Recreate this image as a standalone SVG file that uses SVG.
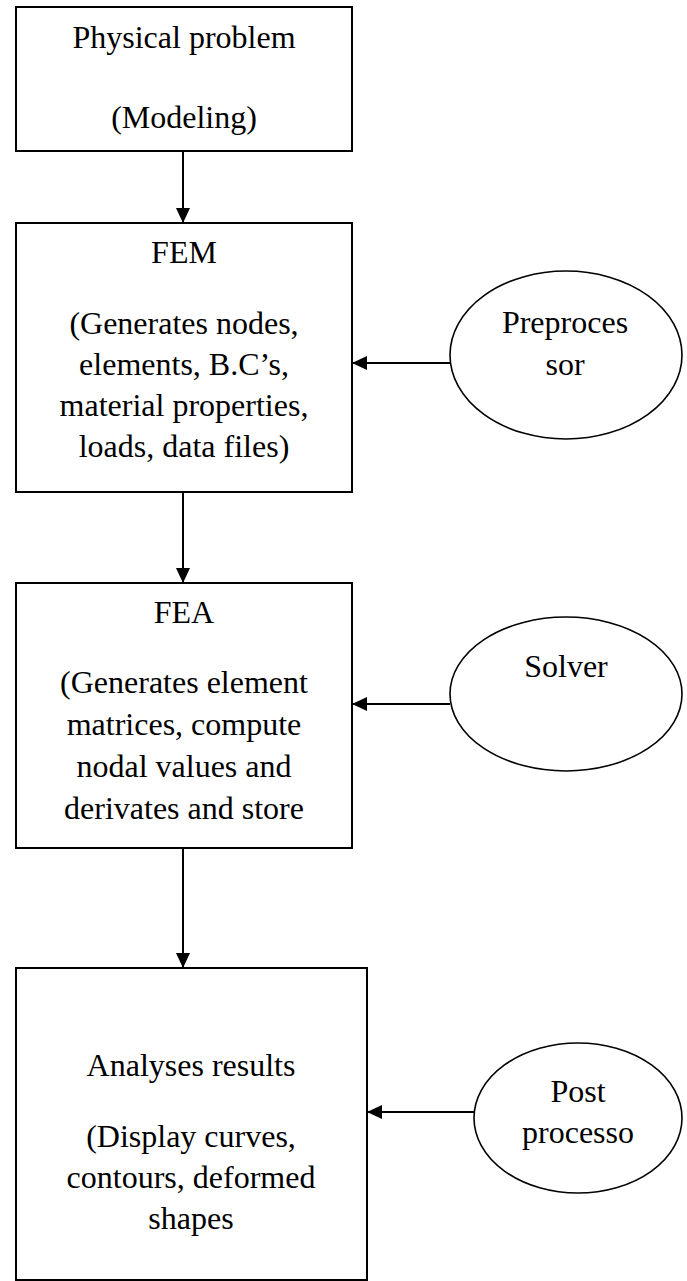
<svg xmlns="http://www.w3.org/2000/svg" width="687" height="1281" viewBox="0 0 687 1281">
  <style>
    .box { fill: #ffffff; stroke: #000000; stroke-width: 2; }
    .ell { fill: #ffffff; stroke: #000000; stroke-width: 1.6; }
    text { font-family: 'Liberation Serif', 'DejaVu Serif', serif; font-size: 32px; fill: #000000; text-anchor: middle; }
    .conn { stroke: #000000; stroke-width: 2; fill: none; marker-end: url(#arrow); }
  </style>
  <defs>
    <marker id="arrow" viewBox="0 0 15 14" refX="15" refY="7" markerWidth="15" markerHeight="14" markerUnits="userSpaceOnUse" orient="auto">
      <path d="M0,0 L15,7 L0,14 Z" fill="#000000"/>
    </marker>
  </defs>
  <rect width="687" height="1281" fill="#ffffff"/>

  <g font-family="Liberation Serif, DejaVu Serif, serif" font-size="32" text-anchor="middle">
  <g id="node-physical">
    <rect class="box" x="16" y="7" width="336" height="144"/>
    <text x="184" y="48">Physical problem</text>
    <text x="184" y="128">(Modeling)</text>
  </g>

  <g id="node-fem">
    <rect class="box" x="16" y="223" width="336" height="269"/>
    <text x="184" y="263">FEM</text>
    <text x="184" y="334">(Generates nodes,</text>
    <text x="184" y="375">elements, B.C’s,</text>
    <text x="184" y="416">material properties,</text>
    <text x="184" y="457">loads, data files)</text>
  </g>

  <g id="node-fea">
    <rect class="box" x="16" y="583" width="336" height="265"/>
    <text x="184" y="623">FEA</text>
    <text x="184" y="693">(Generates element</text>
    <text x="184" y="735">matrices, compute</text>
    <text x="184" y="777">nodal values and</text>
    <text x="184" y="819">derivates and store</text>
  </g>

  <g id="node-results">
    <rect class="box" x="16" y="968" width="351" height="312"/>
    <text x="191" y="1076">Analyses results</text>
    <text x="191" y="1147">(Display curves,</text>
    <text x="191" y="1188">contours, deformed</text>
    <text x="191" y="1229">shapes</text>
  </g>

  <g id="node-preprocessor">
    <ellipse class="ell" cx="566" cy="355" rx="116" ry="84"/>
    <text x="565" y="333">Preproces</text>
    <text x="565" y="375">sor</text>
  </g>

  <g id="node-solver">
    <ellipse class="ell" cx="566" cy="694" rx="116" ry="77"/>
    <text x="566" y="677">Solver</text>
  </g>

  <g id="node-postprocessor">
    <ellipse class="ell" cx="578" cy="1118" rx="104" ry="75"/>
    <text x="578" y="1102">Post</text>
    <text x="578" y="1143">processo</text>
  </g>
  </g>

  <g id="connectors">
    <line class="conn" x1="183" y1="151" x2="183" y2="223"/>
    <line class="conn" x1="183" y1="492" x2="183" y2="583"/>
    <line class="conn" x1="183" y1="848" x2="183" y2="968"/>
    <line class="conn" x1="450" y1="363" x2="352" y2="363"/>
    <line class="conn" x1="450" y1="704" x2="352" y2="704"/>
    <line class="conn" x1="474" y1="1112" x2="367" y2="1112"/>
  </g>
</svg>
